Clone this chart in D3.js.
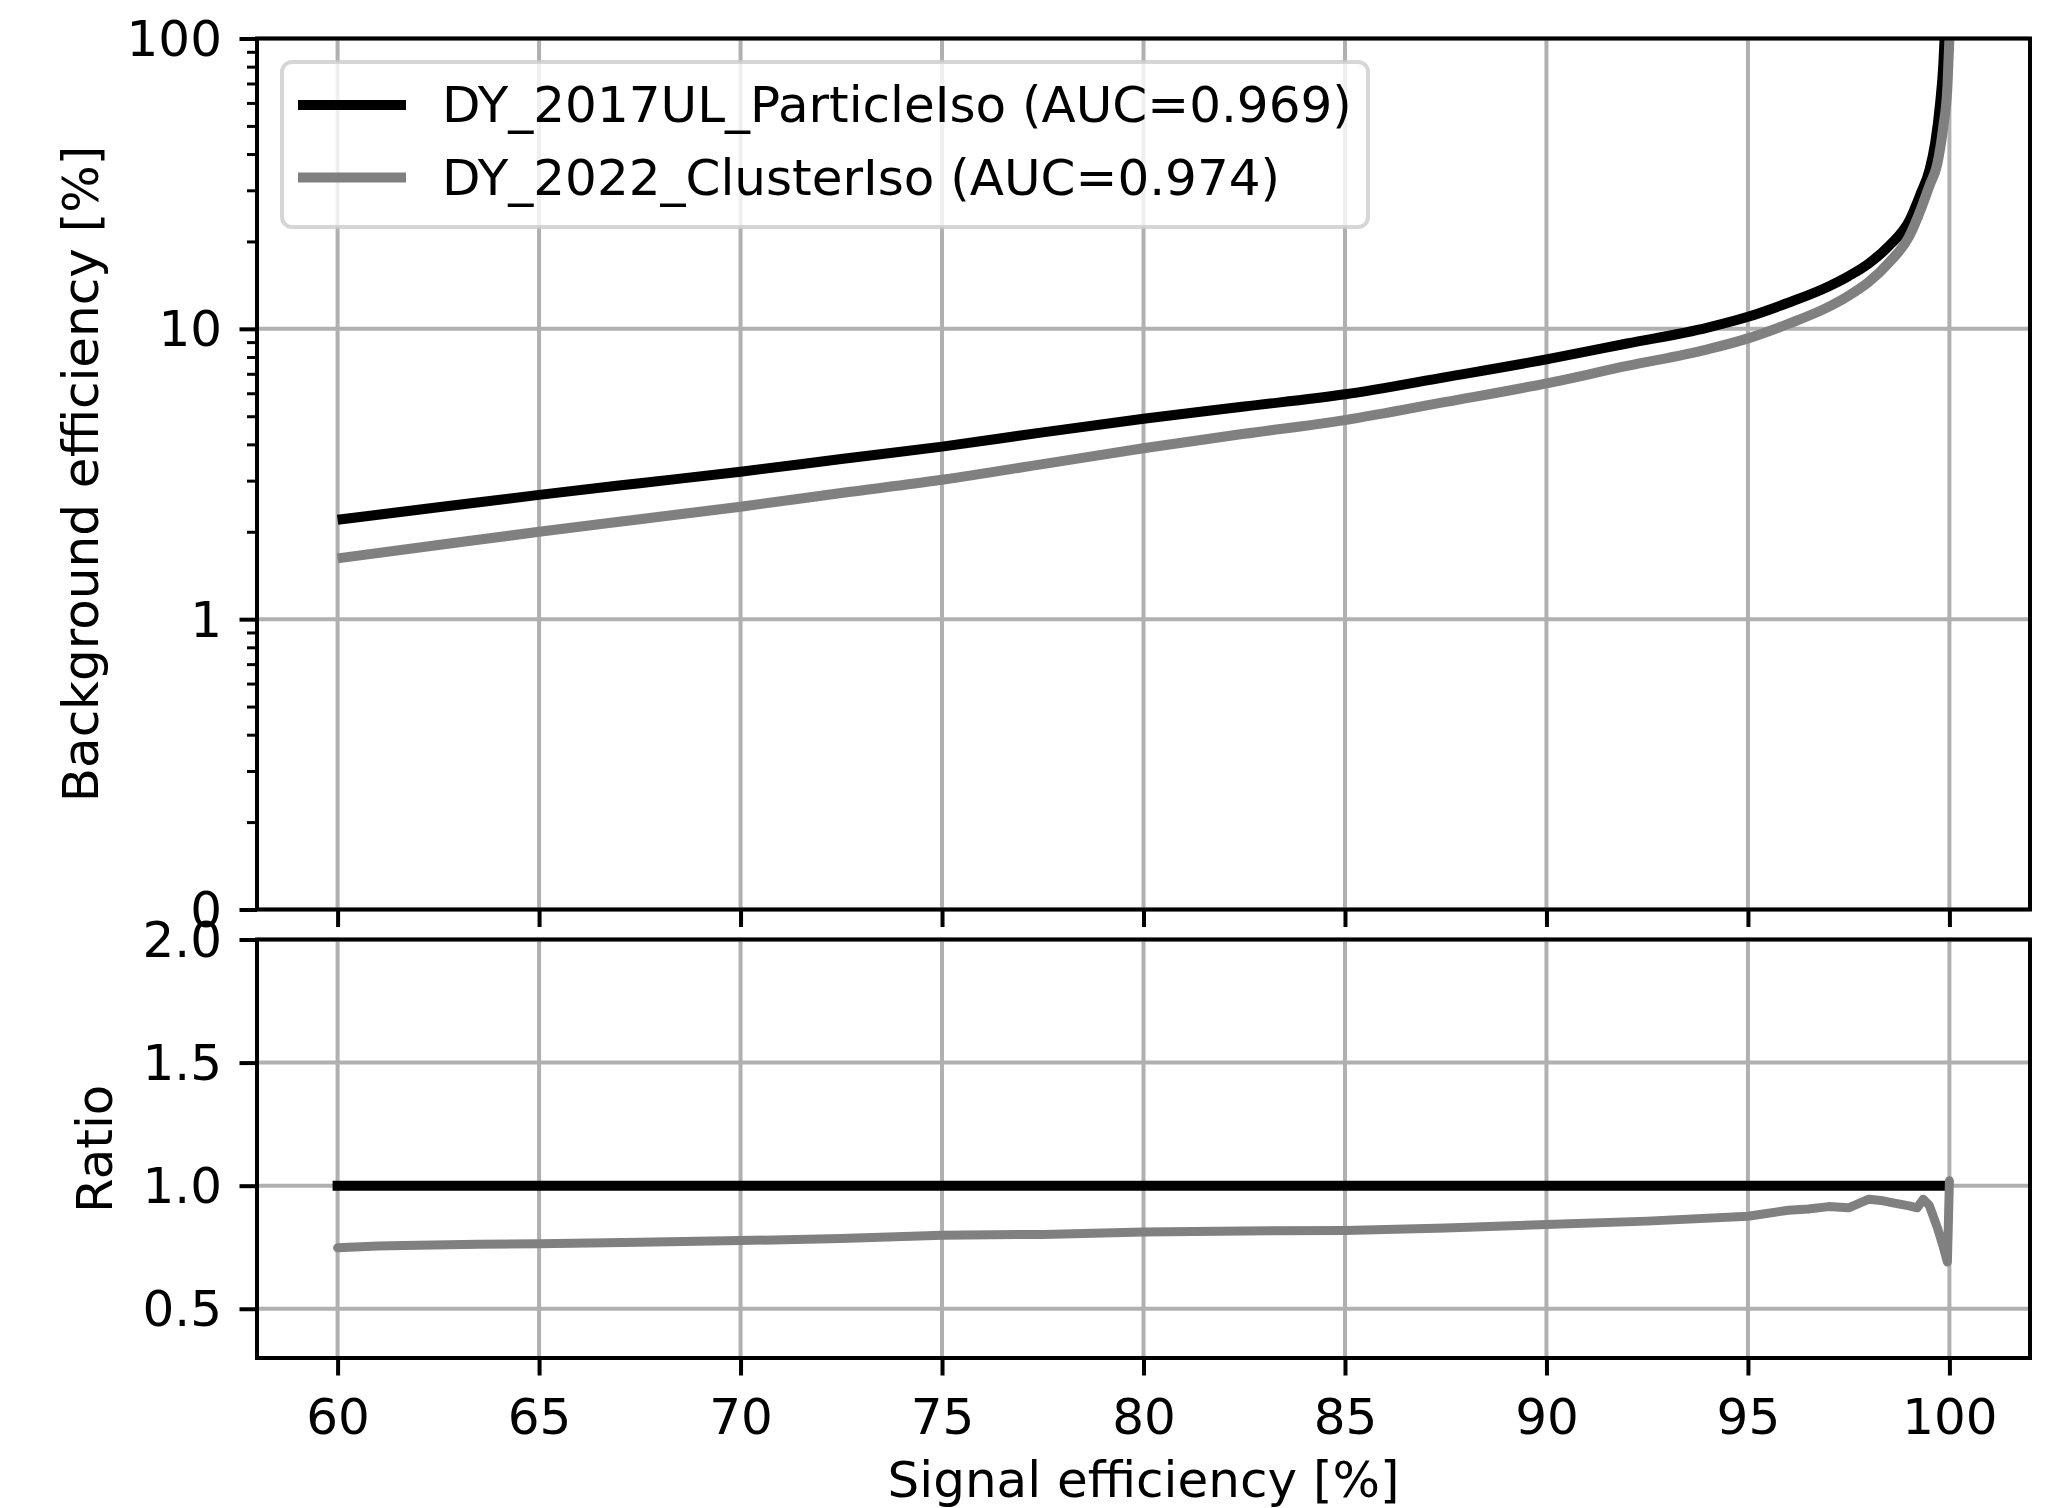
<!DOCTYPE html>
<html>
<head>
<meta charset="utf-8">
<script src="https://cdn.jsdelivr.net/npm/d3@7"></script>
<style>
  body { margin: 0; background: #fff; }
  text { font-family: "DejaVu Sans", sans-serif; fill: #000; }
</style>
</head>
<body>
<svg id="roc" width="2050" height="1508"></svg>
<script>
// ---- data ----
var sigBlack = [60, 62.5, 65, 67.5, 70, 72.5, 75, 77.5, 80, 82.5, 85, 87.5, 90, 92, 94, 95, 96, 97, 97.5, 98, 98.5, 99, 99.3, 99.5, 99.65, 99.77, 99.85, 99.88];
var bkgBlack = [2.20, 2.43, 2.68, 2.94, 3.22, 3.56, 3.93, 4.40, 4.90, 5.40, 5.95, 6.82, 7.85, 8.9, 10.1, 11.0, 12.3, 14.0, 15.2, 16.8, 19.3, 23.5, 29.5, 35.0, 44.0, 60.0, 82.0, 100];

var sigGray = [60, 62.5, 65, 67.5, 70, 72.5, 75, 77.5, 80, 82.5, 85, 87.5, 90, 92, 94, 95, 96, 97, 97.5, 98, 98.5, 99, 99.3, 99.5, 99.7, 99.85, 99.95, 100];
var bkgGray = [1.62, 1.80, 2.00, 2.21, 2.44, 2.72, 3.02, 3.42, 3.88, 4.35, 4.85, 5.6, 6.49, 7.45, 8.5, 9.27, 10.4, 11.9, 13.0, 14.5, 16.9, 20.8, 26.0, 31.0, 37.0, 50.0, 68.0, 100];

var ratioSigBlack = [60, 99.85];
var ratioBlack = [1.0, 1.0];
var ratioSigGray = [60, 61, 62, 63.5, 65, 67.5, 70, 72.5, 75, 77.5, 80, 82.5, 85, 87.5, 90, 92.5, 95, 96, 96.5, 97, 97.5, 98, 98.3, 98.6, 99, 99.2, 99.35, 99.5, 99.7, 99.85, 99.95, 100];
var ratioGray = [0.748, 0.755, 0.758, 0.762, 0.764, 0.770, 0.777, 0.785, 0.799, 0.802, 0.812, 0.816, 0.818, 0.828, 0.842, 0.856, 0.876, 0.900, 0.905, 0.915, 0.910, 0.945, 0.940, 0.930, 0.918, 0.910, 0.945, 0.920, 0.830, 0.750, 0.690, 1.02];

var xTicks = [60, 65, 70, 75, 80, 85, 90, 95, 100];
var yTopTicks = [0.1, 1, 10, 100];
var yTopLabels = ["0", "1", "10", "100"];
var yRatioTicks = [0.5, 1.0, 1.5, 2.0];

var seriesNames = ["DY_2017UL_ParticleIso (AUC=0.969)", "DY_2022_ClusterIso (AUC=0.974)"];
var seriesColors = ["#000000", "#808080"];

// ---- layout ----
var svg = d3.select("#roc"),
    left = 257, right = 2030,
    top1 = 38.5, bot1 = 909.5,
    top2 = 939.5, bot2 = 1358,
    fs = 50;

var x = d3.scaleLinear().domain([58, 102]).range([left, right]);
var yTop = d3.scaleLog().domain([0.1, 100]).range([bot1, top1]);
var yRat = d3.scaleLinear().domain([0.3, 2.0]).range([bot2, top2]);

svg.append("rect").attr("width", 2050).attr("height", 1508).attr("fill", "#fff");

svg.append("clipPath").attr("id", "clipTop")
  .append("rect").attr("x", left).attr("y", top1).attr("width", right - left).attr("height", bot1 - top1);
svg.append("clipPath").attr("id", "clipRat")
  .append("rect").attr("x", left).attr("y", top2).attr("width", right - left).attr("height", bot2 - top2);

function grid(g, yScale, yVals, y0, y1) {
  g.selectAll(".gx").data(xTicks).enter().append("line")
    .attr("x1", function(d) { return x(d); }).attr("x2", function(d) { return x(d); })
    .attr("y1", y0).attr("y2", y1)
    .attr("stroke", "#b0b0b0").attr("stroke-width", 4);
  g.selectAll(".gy").data(yVals).enter().append("line")
    .attr("x1", left).attr("x2", right)
    .attr("y1", function(d) { return yScale(d); }).attr("y2", function(d) { return yScale(d); })
    .attr("stroke", "#b0b0b0").attr("stroke-width", 4);
}

grid(svg.append("g"), yTop, yTopTicks, top1, bot1);
grid(svg.append("g"), yRat, yRatioTicks, top2, bot2);

// ---- curves ----
function pts(xs, ys) { return xs.map(function(d, i) { return [d, ys[i]]; }); }

var lineTop = d3.line()
    .x(function(d) { return x(d[0]); })
    .y(function(d) { return yTop(d[1]); })
    .curve(d3.curveMonotoneX);

var lineRat = d3.line()
    .x(function(d) { return x(d[0]); })
    .y(function(d) { return yRat(d[1]); });

var gTop = svg.append("g").attr("clip-path", "url(#clipTop)");
gTop.append("path").datum(pts(sigBlack, bkgBlack))
  .attr("d", lineTop).attr("fill", "none").attr("stroke", seriesColors[0])
  .attr("stroke-width", 10).attr("stroke-linejoin", "round");
gTop.append("path").datum(pts(sigGray, bkgGray))
  .attr("d", lineTop).attr("fill", "none").attr("stroke", seriesColors[1])
  .attr("stroke-width", 10).attr("stroke-linejoin", "round");

var gRat = svg.append("g").attr("clip-path", "url(#clipRat)");
gRat.append("path").datum(pts(ratioSigBlack, ratioBlack))
  .attr("d", lineRat).attr("fill", "none").attr("stroke", seriesColors[0])
  .attr("stroke-width", 10).attr("stroke-linecap", "square");
gRat.append("path").datum(pts(ratioSigGray, ratioGray))
  .attr("d", lineRat).attr("fill", "none").attr("stroke", seriesColors[1])
  .attr("stroke-width", 9).attr("stroke-linejoin", "round").attr("stroke-linecap", "round");

// ---- axes ----
function styleAxis(g, w) {
  g.select(".domain").remove();
  g.selectAll(".tick line").attr("stroke", "#000").attr("stroke-width", w);
  g.selectAll(".tick text").style("font-size", fs + "px").attr("fill", "#000");
}

// top panel x ticks (no labels)
svg.append("g").attr("transform", "translate(0," + bot1 + ")")
  .call(d3.axisBottom(x).tickValues(xTicks).tickSize(17.5).tickSizeOuter(0).tickFormat(""))
  .call(styleAxis, 4);

// top panel y minor ticks
var minor = yTop.ticks().filter(function(d) { return yTopTicks.indexOf(d) < 0; });
svg.append("g").attr("transform", "translate(" + left + ",0)")
  .call(d3.axisLeft(yTop).tickValues(minor).tickSize(10).tickSizeOuter(0).tickFormat(""))
  .call(styleAxis, 3);

// top panel y major ticks
svg.append("g").attr("transform", "translate(" + left + ",0)")
  .call(d3.axisLeft(yTop).tickValues(yTopTicks).tickSize(17.5).tickPadding(17.5).tickSizeOuter(0)
    .tickFormat(function(d, i) { return yTopLabels[i]; }))
  .call(styleAxis, 4)
  .selectAll(".tick text").attr("dy", null).attr("y", 0).attr("dominant-baseline", "central");

// ratio y ticks
svg.append("g").attr("transform", "translate(" + left + ",0)")
  .call(d3.axisLeft(yRat).tickValues(yRatioTicks).tickSize(17.5).tickPadding(17.5).tickSizeOuter(0)
    .tickFormat(d3.format(".1f")))
  .call(styleAxis, 4)
  .selectAll(".tick text").attr("dy", null).attr("dominant-baseline", "central");

// ratio x ticks with labels
svg.append("g").attr("transform", "translate(0," + bot2 + ")")
  .call(d3.axisBottom(x).tickValues(xTicks).tickSize(17.5).tickPadding(17.5).tickSizeOuter(0)
    .tickFormat(d3.format("d")))
  .call(styleAxis, 4)
  .selectAll(".tick text").attr("dy", null).attr("y", 76);

// frames
svg.append("rect").attr("x", left).attr("y", top1).attr("width", right - left).attr("height", bot1 - top1)
  .attr("fill", "none").attr("stroke", "#000").attr("stroke-width", 4);
svg.append("rect").attr("x", left).attr("y", top2).attr("width", right - left).attr("height", bot2 - top2)
  .attr("fill", "none").attr("stroke", "#000").attr("stroke-width", 4);

// ---- axis labels ----
svg.append("text").attr("transform", "translate(98," + ((top1 + bot1) / 2) + ") rotate(-90)")
  .attr("text-anchor", "middle").style("font-size", fs + "px")
  .text("Background efficiency [%]");
svg.append("text").attr("transform", "translate(112," + ((top2 + bot2) / 2) + ") rotate(-90)")
  .attr("text-anchor", "middle").style("font-size", fs + "px")
  .text("Ratio");
svg.append("text").attr("x", (left + right) / 2).attr("y", 1497)
  .attr("text-anchor", "middle").style("font-size", fs + "px")
  .text("Signal efficiency [%]");

// ---- legend ----
var leg = svg.append("g");
leg.append("rect").attr("x", 282).attr("y", 62).attr("width", 1086).attr("height", 165)
  .attr("rx", 10).attr("ry", 10)
  .attr("fill", "#fff").attr("fill-opacity", 0.8)
  .attr("stroke", "#cccccc").attr("stroke-opacity", 0.8).attr("stroke-width", 4);

var rows = leg.selectAll(".row").data(seriesNames).enter().append("g")
  .attr("transform", function(d, i) { return "translate(0," + (105 + i * 72.5) + ")"; });
rows.append("line").attr("x1", 298).attr("x2", 406).attr("y1", 0).attr("y2", 0)
  .attr("stroke", function(d, i) { return seriesColors[i]; }).attr("stroke-width", 10);
rows.append("text").attr("x", 442).attr("y", 17).style("font-size", fs + "px")
  .text(function(d) { return d; });
</script>
</body>
</html>
